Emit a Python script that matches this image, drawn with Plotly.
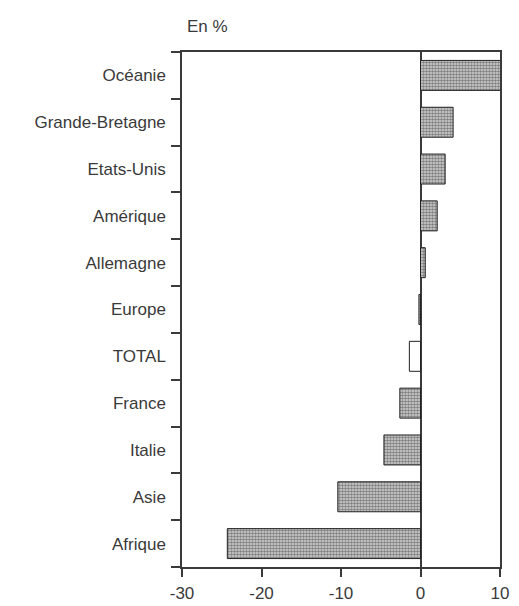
import plotly.graph_objects as go

# Variation par zone / pays, en %
categories = ["Océanie", "Grande-Bretagne", "Etats-Unis", "Amérique", "Allemagne",
              "Europe", "TOTAL", "France", "Italie", "Asie", "Afrique"]
values = [10.4, 4.1, 3.1, 2.1, 0.6, -0.2, -1.4, -2.6, -4.6, -10.4, -24.3]
x_ticks = [-30, -20, -10, 0, 10]

ink = "#3a3a3a"
font = dict(family="Liberation Sans, Arial, sans-serif", size=17, color=ink)

hatched_y = [c for c in categories if c != "TOTAL"]
hatched_x = [v for c, v in zip(categories, values) if c != "TOTAL"]
total_x = [v for c, v in zip(categories, values) if c == "TOTAL"]

fig = go.Figure()
fig.add_trace(go.Bar(
    y=hatched_y, x=hatched_x, orientation="h", width=0.64,
    marker=dict(
        color="#b5b5b5",
        line=dict(color="#222222", width=1),
        pattern=dict(shape=".", size=3, solidity=0.6, fgcolor="#262626", bgcolor="#d8d8d8"),
    ),
    showlegend=False,
))
fig.add_trace(go.Bar(
    y=["TOTAL"], x=total_x, orientation="h", width=0.64,
    marker=dict(color="white", line=dict(color="#222222", width=1)),
    showlegend=False,
))

fig.update_layout(
    width=519, height=606,
    margin=dict(l=182, r=19, t=52, b=39),
    paper_bgcolor="white", plot_bgcolor="white",
    barmode="overlay",
    font=font,
    annotations=[dict(text="En %", x=0, xref="paper", y=1, yref="paper",
                      xanchor="left", yanchor="bottom", xshift=3, yshift=14,
                      showarrow=False, font=dict(size=17, color=ink))],
)
fig.update_xaxes(
    range=[-30, 10], tickvals=x_ticks, ticktext=[str(t) for t in x_ticks],
    ticks="outside", ticklen=8, tickwidth=1.5, tickcolor=ink,
    showline=True, linecolor=ink, linewidth=1.5, mirror=True,
    showgrid=False, zeroline=True, zerolinecolor=ink, zerolinewidth=1.5,
    ticklabelstandoff=2, automargin=False,
    tickfont=dict(size=17, color=ink),
)
fig.update_yaxes(
    categoryorder="array", categoryarray=categories[::-1],
    tickson="boundaries", ticks="outside", ticklen=9, tickwidth=1.5, tickcolor=ink,
    showline=True, linecolor=ink, linewidth=1.5, mirror=True,
    showgrid=False, ticklabelstandoff=11, automargin=False,
    tickfont=dict(size=17, color=ink),
)

fig.write_html("out.html")
